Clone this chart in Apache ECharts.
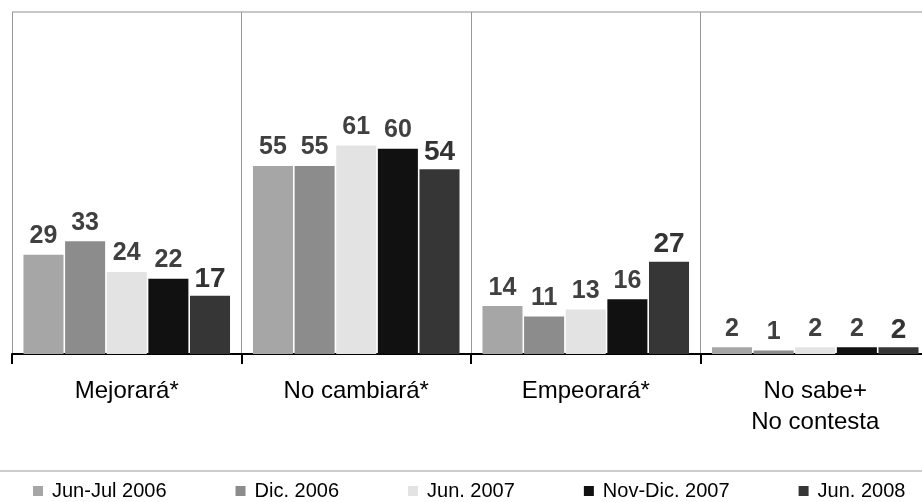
<!DOCTYPE html>
<html>
<head>
<meta charset="utf-8">
<script src="https://cdn.jsdelivr.net/npm/echarts@6/dist/echarts.min.js"></script>
<style>
  html, body { margin: 0; padding: 0; background: #fff; }
  #chart { width: 922px; height: 502px; }
</style>
</head>
<body>
<div id="chart"></div>
<script>
  // categorías y valores (%)
  var categories = ['Mejorará*', 'No cambiará*', 'Empeorará*', 'No sabe+\nNo contesta'];
  var seriesNames = ['Jun-Jul 2006', 'Dic. 2006', 'Jun. 2007', 'Nov-Dic. 2007', 'Jun. 2008'];
  var junJul2006 = [29, 55, 14, 2];
  var dic2006 = [33, 55, 11, 1];
  var jun2007 = [24, 61, 13, 2];
  var novDic2007 = [22, 60, 16, 2];
  var jun2008 = [17, 54, 27, 2];

  var values = [junJul2006, dic2006, jun2007, novDic2007, jun2008];
  var colors = ['#a6a6a6', '#8c8c8c', '#e3e3e3', '#111111', '#363636'];
  var font = '"Liberation Sans", Arial, sans-serif';

  var series = [];
  for (var i = 0; i < seriesNames.length; i++) {
    var last = i === seriesNames.length - 1;
    series.push({
      name: seriesNames[i],
      type: 'bar',
      data: values[i],
      barGap: '4%',
      barCategoryGap: '10%',
      itemStyle: { color: colors[i] },
      label: {
        show: true,
        position: 'top',
        distance: last ? 3 : 6,
        fontFamily: font,
        fontWeight: 'bold',
        fontSize: last ? 28 : 25,
        color: last ? '#333333' : '#404040'
      }
    });
  }

  var myChart = echarts.init(document.getElementById('chart'));
  myChart.setOption({
    backgroundColor: '#fff',
    animation: false,
    color: colors,
    grid: { left: 12, top: 12, width: 918, height: 342, outerBoundsMode: 'none', containLabel: false },
    legend: {
      data: seriesNames,
      left: 33,
      top: 481,
      padding: 0,
      itemWidth: 10,
      itemHeight: 10,
      itemGap: 69,
      icon: 'rect',
      textStyle: { fontFamily: font, fontSize: 20, color: '#000', padding: [0, 0, 0, 4] }
    },
    xAxis: {
      type: 'category',
      data: categories,
      axisLine: { lineStyle: { color: '#000', width: 2 } },
      axisTick: { show: true, length: 10, lineStyle: { color: '#000', width: 2 } },
      axisLabel: { margin: 22, fontFamily: font, fontSize: 24, color: '#000', lineHeight: 31 },
      splitLine: { show: true, lineStyle: { color: '#999', width: 1 } }
    },
    yAxis: {
      type: 'value',
      min: 0,
      max: 100,
      interval: 100,
      axisLabel: { show: false },
      axisLine: { show: false },
      axisTick: { show: false },
      splitLine: { show: true, lineStyle: { color: '#c8c8c8', width: 2 } }
    },
    graphic: [{
      type: 'line',
      shape: { x1: 0, y1: 471, x2: 922, y2: 471 },
      style: { stroke: '#cccccc', lineWidth: 2 }
    }],
    series: series
  });
</script>
</body>
</html>
